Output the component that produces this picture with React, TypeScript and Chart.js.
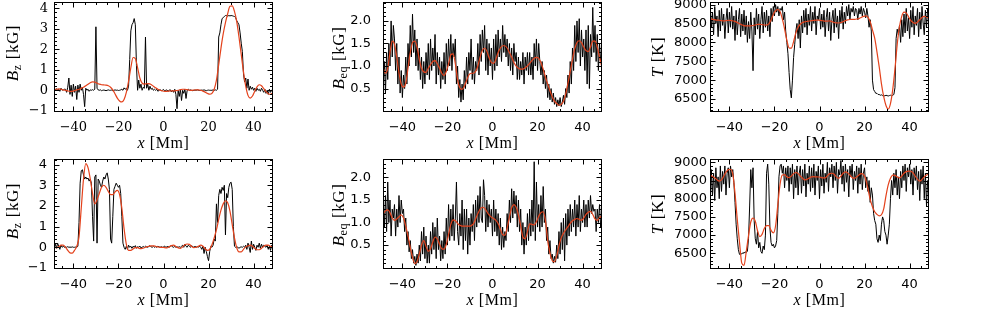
import React, { useEffect, useRef } from "react";
import { Chart, registerables } from "chart.js";

Chart.register(...registerables);

// ---------- sampling grid ----------
const X_MIN = -48.6;
const X_MAX = 48.6;
const OBS_X0 = -48.5; // observed profiles sampled every 0.5 Mm
const OBS_DX = 0.5;
const FIT_X0 = -48.5; // smoothed profiles sampled every 1 Mm
const FIT_DX = 1;

// ---------- tick labels ----------
const xTicks = [-40, -20, 0, 20, 40];
const bzTicks = [-1, 0, 1, 2, 3, 4];
const beqTicks = [0.5, 1.0, 1.5, 2.0];
const tTicks = [6500, 7000, 7500, 8000, 8500, 9000];

// ---------- top row ----------
const bzTopObs = [
  0.05, 0.02, 0.08, 0.0, 0.05, -0.05, 0.1, 0.02, 0.0, 0.06,
  0.05, -0.1, 0.15, 0.6, -0.2, 0.25, -0.3, 0.3, -0.1, 0.2,
  -0.45, 0.25, -0.1, 0.3, 0.0, 0.15, -0.2, -0.8, 0.1, 0.0,
  0.05, -0.05, 0.02, 0.0, 0.03, 0.0, 0.05, 3.1, 0.1, 0.02,
  0.0, 0.02, -0.02, 0.0, 0.01, 0.0, -0.02, 0.0, 0.02, 0.0,
  0.0, 0.01, -0.02, 0.0, 0.02, 0.0, 0.01, -0.01, 0.0, 0.02,
  0.05, 0.0, 0.12, 0.05, 0.1, 0.0, 0.2, 1.5, 2.9, 3.2,
  3.3, 3.5, 3.2, 1.2, 0.0, 0.5, 0.1, 0.3, 0.0, 0.15,
  0.1, 2.6, 0.1, 0.3, 0.0, 0.2, 0.05, 0.1, 0.0, 0.05,
  0.0, 0.05, -0.05, 0.0, 0.03, -0.02, 0.0, 0.04, -0.03, 0.0,
  0.02, -0.05, 0.0, 0.03, -0.08, 0.0, -0.1, 0.05, -0.2, -0.9,
  0.0, -0.3, 0.05, -0.5, 0.0, -0.15, 0.05, -0.4, 0.0, 0.05,
  0.0, 0.02, 0.0, -0.02, 0.0, 0.01, 0.0, 0.02, 0.0, -0.01,
  0.0, 0.01, 0.0, 0.02, 0.0, -0.02, 0.0, 0.01, 0.0, 0.0,
  0.0, 0.02, 0.0, 0.02, 0.0, 0.05, 2.6, 2.8, 3.2, 3.5,
  3.55, 3.6, 3.65, 3.65, 3.62, 3.65, 3.63, 3.65, 3.64, 3.62,
  3.6, 3.55, 3.4, 3.3, 3.2, 2.8, 2.3, 1.9, 0.8, 0.4,
  0.6, 0.1, 0.55, 0.0, 0.2, 0.05, 0.15, 0.0, 0.1, -0.05,
  0.1, 0.0, 0.05, -0.05, 0.1, 0.0, -0.1, 0.05, -0.15, 0.0,
  -0.2, 0.05, -0.1, 0.0, -0.05,
];
const bzTopFit = [
  0.05, 0.05, 0.07, 0.05, 0.02, 0.0, -0.03, -0.05, -0.05, -0.02,
  0.02, 0.05, 0.1, 0.15, 0.22, 0.3, 0.37, 0.41, 0.4, 0.35,
  0.3, 0.27, 0.26, 0.25, 0.22, 0.15, 0.02, -0.18, -0.38, -0.52,
  -0.57, -0.45, -0.1, 0.45, 1.1, 1.6, 1.55, 1.1, 0.6, 0.35,
  0.3, 0.32, 0.33, 0.28, 0.2, 0.12, 0.05, 0.0, -0.03, -0.05,
  -0.05, -0.04, -0.03, -0.03, -0.02, 0.0, 0.03, 0.05, 0.05, 0.03,
  0.01, 0.0, 0.01, 0.02, 0.02, 0.0, -0.04, -0.09, -0.15, -0.19,
  -0.15, 0.05, 0.5, 1.25, 2.05, 2.75, 3.3, 3.75, 4.1, 4.12,
  3.85, 3.35, 2.6, 1.75, 0.9, 0.2, -0.25, -0.38, -0.28, -0.05,
  0.17, 0.27, 0.22, 0.08, -0.07, -0.17, -0.2, -0.12,
];
const beqTopObs = [
  0.6, 1.1, 0.4, 1.3, 0.7, 1.5, 1.0, 2.0, 1.2, 1.9,
  1.6, 0.9, 1.5, 0.6, 1.2, 0.4, 0.9, 0.3, 0.8, 0.5,
  1.2, 0.6, 1.5, 1.0, 1.9, 1.2, 2.15, 1.3, 1.8, 1.0,
  1.6, 0.9, 1.4, 0.7, 1.2, 0.5, 1.1, 0.6, 1.3, 0.8,
  1.5, 0.7, 1.6, 0.9, 1.4, 1.0, 1.7, 0.6, 1.3, 0.8,
  1.2, 0.5, 1.1, 0.7, 1.3, 0.6, 1.5, 0.9, 1.6, 1.0,
  1.7, 0.9, 1.5, 1.2, 1.6, 0.6, 1.0, 0.3, 0.7, 0.2,
  0.6, 0.25, 0.9, 0.5, 1.2, 0.6, 1.3, 0.9, 1.6, 0.7,
  1.2, 0.6, 1.1, 0.9, 1.5, 0.8, 1.7, 1.1, 1.8, 1.3,
  1.9, 0.9, 1.6, 0.8, 1.5, 1.0, 1.4, 0.7, 1.6, 0.9,
  1.7, 1.0, 1.8, 1.2, 1.6, 1.1, 1.9, 1.3, 1.7, 1.2,
  1.6, 1.0, 1.5, 0.9, 1.4, 0.8, 1.5, 1.1, 1.3, 0.7,
  1.2, 0.7, 1.1, 0.8, 1.3, 0.6, 1.2, 0.9, 1.3, 0.8,
  1.3, 0.8, 1.2, 0.7, 1.5, 1.0, 1.6, 0.9, 1.5, 1.1,
  0.8, 1.1, 0.6, 0.9, 0.5, 0.8, 0.3, 0.6, 0.25, 0.5,
  0.2, 0.4, 0.15, 0.3, 0.1, 0.25, 0.12, 0.3, 0.1, 0.2,
  0.35, 0.15, 0.5, 0.3, 0.8, 0.4, 1.1, 0.6, 1.4, 0.9,
  1.9, 1.1, 2.0, 1.3, 2.05, 1.0, 1.8, 1.2, 1.6, 0.9,
  1.8, 0.6, 1.9, 0.5, 1.7, 1.2, 2.3, 1.3, 1.9, 1.1,
  1.7, 0.9, 1.5, 1.1, 1.3,
];
const beqTopFit = [
  0.95, 0.84, 0.95, 1.3, 1.55, 1.48, 1.2, 0.85, 0.6, 0.53,
  0.62, 0.95, 1.3, 1.52, 1.55, 1.42, 1.15, 0.95, 0.87, 0.86,
  0.95, 1.03, 1.1, 1.12, 1.05, 0.95, 0.84, 0.79, 0.88, 1.05,
  1.25, 1.27, 1.05, 0.7, 0.52, 0.48, 0.55, 0.68, 0.8, 0.84,
  0.84, 0.88, 1.0, 1.2, 1.35, 1.4, 1.33, 1.18, 1.08, 1.06,
  1.15, 1.3, 1.4, 1.45, 1.45, 1.4, 1.3, 1.2, 1.08, 1.0,
  0.95, 0.93, 0.93, 0.96, 1.0, 1.06, 1.12, 1.17, 1.19, 1.17,
  1.08, 0.93, 0.75, 0.6, 0.45, 0.32, 0.22, 0.17, 0.13, 0.15,
  0.22, 0.38, 0.62, 0.88, 1.15, 1.38, 1.52, 1.56, 1.52, 1.42,
  1.34, 1.32, 1.42, 1.55, 1.55, 1.42, 1.2, 0.98,
];
const tTopObs = [
  8900, 8400, 8800, 8200, 8950, 8500, 8700, 8150, 8850, 8300,
  8900, 8450, 8750, 8100, 8600, 8900, 8250, 8800, 8400, 8950,
  8350, 8700, 8050, 8850, 8200, 8600, 8900, 8150, 8750, 8300,
  8850, 8200, 8700, 8000, 8550, 8100, 8800, 8300, 7250, 8650,
  8200, 8900, 8350, 8750, 8100, 8600, 8950, 8250, 8800, 8400,
  8850, 8300, 8700, 8150, 8900, 8550, 8950, 8700, 9000, 8800,
  8950, 8700, 8900, 8850, 8950, 8600, 8800, 8300, 8000, 7700,
  7200, 6750, 6530, 7000, 7600, 7950, 8300, 8500, 8100, 8600,
  7850, 8700, 8250, 8850, 8400, 8900, 8200, 8750, 8450, 8950,
  8300, 8800, 8500, 8950, 8200, 8700, 8600, 8900, 8350, 8750,
  8400, 8850, 8150, 8650, 8900, 8300, 8800, 8050, 8600, 8850,
  8250, 8900, 8400, 8700, 8100, 8850, 8500, 8950, 8350, 8800,
  8500, 8950, 8700, 9000, 8600, 8900, 8800, 8950, 8700, 8900,
  8850, 8600, 8900, 8750, 8950, 8700, 8900, 8800, 8650, 8900,
  8700, 8400, 8600, 8300, 7000, 6750, 6700, 6650, 6650, 6620,
  6620, 6600, 6610, 6590, 6600, 6580, 6600, 6590, 6580, 6590,
  6600, 6580, 6600, 6620, 6800, 8100, 8350, 8200, 8450, 8000,
  8600, 8150, 8750, 8250, 8900, 8300, 8650, 8100, 8850, 8400,
  8950, 8200, 8700, 8450, 8900, 8150, 8800, 8350, 8950, 8500,
  8200, 8850, 8400, 8900, 8600,
];
const tTopFit = [
  8630, 8610, 8600, 8590, 8585, 8575, 8568, 8575, 8585, 8582,
  8570, 8555, 8525, 8495, 8465, 8445, 8437, 8435, 8438, 8447,
  8460, 8475, 8478, 8470, 8460, 8458, 8490, 8590, 8740, 8840,
  8875, 8810, 8620, 8360, 8060, 7850, 7845, 8020, 8250, 8400,
  8480, 8525, 8545, 8555, 8565, 8575, 8583, 8587, 8588, 8582,
  8572, 8565, 8565, 8567, 8550, 8525, 8515, 8513, 8525, 8550,
  8575, 8595, 8605, 8608, 8611, 8618, 8630, 8660, 8690, 8700,
  8665, 8550, 8330, 8110, 7750, 7350, 6900, 6560, 6330, 6235,
  6380, 6750, 7300, 7950, 8420, 8690, 8800, 8780, 8680, 8580,
  8525, 8505, 8540, 8600, 8660, 8690, 8675, 8650,
];

// ---------- bottom row ----------
const bzBotObs = [
  0.0, 0.15, -0.05, 0.2, 0.05, -0.1, 0.1, 0.0, 0.05, 0.0,
  0.02, 0.0, 0.03, 0.0, 0.01, 0.0, 0.02, 0.0, 0.0, 0.01,
  0.0, 0.05, 1.2, 3.1, 3.7, 3.75, 3.5, 3.3, 3.4, 3.3,
  3.35, 3.2, 3.3, 3.1, 1.5, 0.3, 3.4, 3.5, 0.2, 3.3,
  3.2, 3.0, 2.9, 3.2, 3.4, 3.3, 3.5, 3.6, 3.3, 2.8,
  0.4, 0.2, 1.5, 2.8, 2.95, 3.1, 3.0, 2.9, 3.0, 2.6,
  1.5, 0.2, 0.0, -0.1, 0.05, -0.1, 0.1, 0.0, 0.05, -0.05,
  0.05, 0.0, 0.08, -0.05, 0.03, 0.0, 0.06, -0.03, 0.0, 0.04,
  0.0, 0.05, 0.02, 0.0, 0.04, 0.08, 0.02, 0.0, 0.05, 0.0,
  0.03, 0.0, 0.05, 0.02, 0.0, 0.03, 0.0, 0.02, 0.06, 0.0,
  0.02, 0.04, 0.0, 0.05, 0.08, 0.02, 0.0, 0.04, 0.0, 0.02,
  0.0, 0.03, 0.0, 0.05, 0.1, 0.0, 0.15, 0.05, 0.0, 0.1,
  0.05, 0.0, 0.08, 0.02, 0.0, 0.05, 0.0, 0.04, 0.0, 0.06,
  0.0, -0.1, 0.05, -0.3, 0.0, -0.2, -0.45, -0.65, -0.2, 0.05,
  0.0, 0.1, 0.4, 0.3, 2.1, 1.2, 2.5, 2.8, 2.6, 2.9,
  2.75, 3.0, 0.6, 2.6, 2.4, 2.9, 3.1, 3.15, 2.8, 1.0,
  0.05, 0.0, 0.02, 0.0, -0.05, 0.0, 0.02, 0.0, 0.05, 0.0,
  0.1, -0.1, 0.2, 0.0, -0.25, 0.3, -0.1, 0.15, 0.0, -0.15,
  0.1, 0.0, 0.2, -0.05, 0.15, 0.0, 0.1, 0.05, 0.0, 0.1,
  -0.1, 0.05, -0.15, 0.1, -0.05,
];
const bzBotFit = [
  0.0, -0.02, 0.02, 0.1, 0.1, 0.0, -0.15, -0.27, -0.28, -0.15,
  0.05, 0.5, 1.9, 3.3, 4.05, 3.85, 3.3, 2.6, 2.1, 2.3,
  2.6, 2.9, 3.0, 2.9, 2.7, 2.55, 2.55, 2.68, 2.75, 2.55,
  1.9, 0.9, 0.15, -0.15, -0.15, -0.08, -0.02, -0.02, -0.06, -0.05,
  -0.02, 0.02, 0.05, 0.07, 0.07, 0.05, 0.02, 0.0, 0.0, -0.02,
  -0.03, 0.02, 0.08, 0.1, 0.04, -0.03, -0.05, 0.02, 0.12, 0.16,
  0.14, 0.04, -0.02, 0.0, 0.05, 0.1, 0.05, -0.07, -0.15, -0.1,
  0.12, 0.45, 0.85, 1.35, 1.8, 2.1, 2.25, 2.15, 1.75, 1.1,
  0.45, -0.02, -0.22, -0.22, -0.1, 0.02, 0.07, 0.1, 0.05, -0.05,
  -0.12, -0.12, -0.05, 0.05, 0.1, 0.1, 0.05, 0.02,
];
const beqBotObs = [
  1.5, 0.9, 1.6, 0.8, 1.9, 1.0, 1.5, 0.7, 1.3, 1.1,
  1.4, 0.7, 1.3, 0.9, 1.6, 1.0, 1.5, 1.2, 1.3, 0.8,
  1.1, 0.5, 0.8, 0.35, 0.6, 0.2, 0.4, 0.1, 0.25, 0.05,
  0.3, 0.1, 0.5, 0.15, 0.8, 0.3, 0.9, 0.2, 0.7, 0.1,
  0.5, 0.1, 0.8, 0.3, 1.0, 0.4, 0.9, 0.2, 1.1, 0.4,
  0.7, 0.15, 0.6, 0.2, 0.8, 0.3, 1.1, 0.5, 1.4, 0.6,
  1.3, 0.7, 1.4, 0.6, 1.1, 1.9, 0.8, 0.5, 1.2, 0.7,
  1.5, 0.4, 1.3, 0.6, 1.3, 0.3, 1.1, 0.5, 1.2, 0.8,
  1.4, 0.6, 1.5, 0.9, 1.6, 1.0, 1.8, 1.1, 1.0, 1.95,
  1.6, 0.8, 1.5, 0.9, 1.4, 1.0, 1.3, 0.7, 1.5, 0.8,
  1.3, 0.7, 1.2, 0.5, 1.1, 0.4, 0.9, 0.45, 0.8, 0.6,
  1.2, 0.8, 1.5, 1.0, 1.75, 1.1, 1.7, 1.2, 1.6, 0.9,
  1.5, 0.8, 1.3, 0.5, 1.0, 0.3, 0.9, 0.5, 1.2, 0.6,
  1.3, 0.7, 1.5, 0.8, 2.35, 0.6, 1.9, 0.9, 1.4, 0.8,
  1.6, 0.9, 1.8, 1.0, 1.3, 0.6, 0.9, 0.3, 0.6, 0.2,
  0.3, 0.1, 0.25, 0.12, 0.5, 0.2, 0.8, 0.3, 1.0, 0.4,
  1.1, 0.15, 1.2, 0.5, 1.3, 0.7, 1.4, 0.8, 1.3, 0.9,
  1.5, 0.7, 1.4, 0.9, 1.6, 0.8, 1.3, 1.0, 1.5, 0.9,
  1.4, 0.9, 1.5, 1.1, 1.6, 1.2, 1.4, 1.25, 1.3, 0.8,
  1.3, 1.0, 1.4, 0.9, 1.2,
];
const beqBotFit = [
  1.2, 1.26, 1.28, 1.22, 1.1, 1.05, 1.08, 1.13, 1.17, 1.1,
  0.92, 0.7, 0.45, 0.23, 0.09, 0.13, 0.3, 0.5, 0.6, 0.47,
  0.36, 0.42, 0.57, 0.68, 0.64, 0.52, 0.42, 0.41, 0.52, 0.74,
  0.96, 1.06, 1.04, 0.98, 0.94, 0.92, 0.92, 0.92, 0.92, 0.93,
  0.97, 1.08, 1.2, 1.3, 1.34, 1.32, 1.24, 1.17, 1.12, 1.09,
  1.05, 0.98, 0.85, 0.73, 0.72, 0.88, 1.12, 1.33, 1.4, 1.34,
  1.17, 0.93, 0.68, 0.64, 0.8, 0.97, 0.96, 0.95, 1.02, 1.14,
  1.22, 1.24, 1.04, 0.6, 0.32, 0.16, 0.13, 0.26, 0.48, 0.66,
  0.76, 0.84, 0.91, 0.98, 1.04, 1.07, 1.09, 1.07, 1.05, 1.1,
  1.18, 1.23, 1.25, 1.18, 1.08, 1.05, 1.11, 1.14,
];
const tBotObs = [
  7850, 8800, 8100, 8700, 7950, 8850, 8300, 8600, 8000, 8900,
  8200, 8750, 8400, 8900, 8100, 8700, 8850, 8300, 8900, 8600,
  8800, 8450, 7900, 7300, 6900, 6600, 6470, 6500, 6480, 6520,
  6500, 6540, 6520, 6560, 6900, 7800, 8800, 8300, 8850, 7400,
  6900, 6750, 7100, 6650, 6800, 6550, 6500, 6700, 6600, 7000,
  8700, 8950, 8400, 7200, 6800, 6700, 6750, 6650, 6700, 6850,
  7600, 8600, 8900, 8950, 8700, 8900, 8300, 8850, 8500, 8900,
  8200, 8850, 8400, 8950, 8000, 8800, 8300, 8900, 8100, 8700,
  8900, 8150, 8800, 8350, 8950, 8050, 8700, 8400, 8900, 8200,
  8850, 8300, 8950, 8100, 8750, 8500, 8900, 8000, 8800, 8350,
  8950, 8150, 8700, 8450, 9000, 8200, 8850, 8600, 8950, 8300,
  8900, 8500, 9000, 8150, 8800, 8650, 9050, 8400, 8900, 8200,
  8950, 8450, 8800, 8050, 8900, 8600, 8950, 8250, 8750, 8500,
  8900, 8150, 8850, 8400, 8950, 8250, 8700, 8850, 8300, 8600,
  8200, 8500, 7900, 8300, 8100, 7600, 7400, 7300, 6900, 6800,
  7000, 6850, 7300, 7500, 7400, 7100, 7000, 6750, 7000, 7300,
  8000, 8500, 8100, 8700, 8300, 8800, 8100, 8600, 8000, 8750,
  8300, 8900, 8500, 8950, 8200, 8850, 8600, 8950, 8400, 8800,
  8100, 8850, 8500, 8900, 8250, 8750, 7950, 8800, 8400, 8900,
  8000, 8700, 7800, 8500, 8300,
];
const tBotFit = [
  8650, 8610, 8570, 8520, 8485, 8520, 8620, 8730, 8800, 8810,
  8680, 8150, 7430, 6800, 6230, 6170, 6550, 6990, 7360, 7470,
  7380, 7120, 6960, 7020, 7180, 7260, 7260, 7130, 7060, 7250,
  7830, 8400, 8650, 8660, 8600, 8580, 8620, 8690, 8720, 8690,
  8620, 8560, 8520, 8530, 8570, 8600, 8605, 8600, 8597, 8590,
  8570, 8570, 8630, 8690, 8700, 8670, 8600, 8560, 8620, 8700,
  8740, 8710, 8650, 8580, 8560, 8600, 8650, 8690, 8670, 8540,
  8270, 7980, 7780, 7640, 7570, 7530, 7560, 7720, 8080, 8380,
  8560, 8650, 8640, 8600, 8570, 8620, 8700, 8745, 8760, 8755,
  8710, 8620, 8530, 8480, 8530, 8600, 8650, 8670,
];

// ---------- styling ----------
const RED = "#e4421c";
const TITLE_FONT = "'Liberation Serif', 'DejaVu Serif', serif";
const SERIF_TICKS = "'DejaVu Serif', serif";
const SANS_TICKS = "'DejaVu Sans', sans-serif";
const Y_AXIS_W = 50;
const X_AXIS_H = 28;
const PAD_TOP = 4;
const PAD_RIGHT = 6;

const framePlugin = {
  id: "frame",
  afterDatasetsDraw(chart: any, _args: any, opts: any) {
    const { ctx, chartArea: a, scales } = chart;
    const xs = scales.x;
    const ys = scales.y;
    const L = Math.round(a.left) + 0.5;
    const R = Math.round(a.right) - 0.5;
    const T = Math.round(a.top) + 0.5;
    const B = Math.round(a.bottom) - 0.5;
    ctx.save();
    ctx.strokeStyle = "#000";
    ctx.lineWidth = 1;
    ctx.strokeRect(L, T, R - L, B - T);
    ctx.beginPath();
    const isMajor = (list: number[], v: number, step: number) =>
      list.some((m) => Math.abs(m - v) < step / 1000);
    {
      const step = opts.xMinor;
      const k0 = Math.ceil(xs.min / step);
      const k1 = Math.floor(xs.max / step);
      for (let k = k0; k <= k1; k++) {
        const v = k * step;
        const px = Math.round(xs.getPixelForValue(v)) + 0.5;
        const len = isMajor(opts.xMajor, v, step) ? 5 : 2.5;
        ctx.moveTo(px, B);
        ctx.lineTo(px, B - len);
        ctx.moveTo(px, T);
        ctx.lineTo(px, T + len);
      }
    }
    {
      const step = opts.yMinor;
      const k0 = Math.ceil(ys.min / step - 1e-9);
      const k1 = Math.floor(ys.max / step + 1e-9);
      for (let k = k0; k <= k1; k++) {
        const v = k * step;
        const py = Math.round(ys.getPixelForValue(v)) + 0.5;
        const len = isMajor(opts.yMajor, v, step) ? 5 : 2.5;
        ctx.moveTo(L, py);
        ctx.lineTo(L + len, py);
        ctx.moveTo(R, py);
        ctx.lineTo(R - len, py);
      }
    }
    ctx.stroke();
    ctx.restore();
  },
};

const minus = (s: string) => s.replace("-", "\u2212");

type PanelDef = {
  key: string;
  left: number;
  top: number;
  width: number;
  height: number;
  obs: number[];
  fit: number[];
  yMin: number;
  yMax: number;
  yTicks: number[];
  yMinor: number;
  decimals: number;
  font: string;
  yPad: number;
  yTitle: React.ReactNode;
  yTitleX: number;
  yTitleY: number;
};

const BOX_W = 219;
const BOX_H = 110;
const subStyle: React.CSSProperties = { fontSize: 12, verticalAlign: -3 };

const panels: PanelDef[] = [
  {
    key: "bzTop", left: 54, top: 2, width: BOX_W, height: BOX_H,
    obs: bzTopObs, fit: bzTopFit, yMin: -1.06, yMax: 4.31, yTicks: bzTicks, yMinor: 0.2,
    decimals: 0, font: SERIF_TICKS, yPad: 6,
    yTitle: (<span><i>B</i><sub style={subStyle}>z</sub> [kG]</span>),
    yTitleX: 15, yTitleY: 53,
  },
  {
    key: "beqTop", left: 383, top: 2, width: BOX_W, height: BOX_H,
    obs: beqTopObs, fit: beqTopFit, yMin: -0.02, yMax: 2.42, yTicks: beqTicks, yMinor: 0.1,
    decimals: 1, font: SANS_TICKS, yPad: 12,
    yTitle: (<span><i>B</i><sub style={subStyle}>eq</sub> [kG]</span>),
    yTitleX: 341, yTitleY: 58,
  },
  {
    key: "tTop", left: 710, top: 2, width: BOX_W, height: BOX_H,
    obs: tTopObs, fit: tTopFit, yMin: 6156, yMax: 9069, yTicks: tTicks, yMinor: 100,
    decimals: 0, font: SANS_TICKS, yPad: 3,
    yTitle: (<span><i>T</i> [K]</span>),
    yTitleX: 657, yTitleY: 57,
  },
  {
    key: "bzBot", left: 54, top: 159, width: BOX_W, height: BOX_H,
    obs: bzBotObs, fit: bzBotFit, yMin: -1.05, yMax: 4.27, yTicks: bzTicks, yMinor: 0.2,
    decimals: 0, font: SANS_TICKS, yPad: 7,
    yTitle: (<span><i>B</i><sub style={subStyle}>z</sub> [kG]</span>),
    yTitleX: 15, yTitleY: 211,
  },
  {
    key: "beqBot", left: 383, top: 159, width: BOX_W, height: BOX_H,
    obs: beqBotObs, fit: beqBotFit, yMin: -0.03, yMax: 2.41, yTicks: beqTicks, yMinor: 0.1,
    decimals: 1, font: SANS_TICKS, yPad: 12,
    yTitle: (<span><i>B</i><sub style={subStyle}>eq</sub> [kG]</span>),
    yTitleX: 341, yTitleY: 215,
  },
  {
    key: "tBot", left: 710, top: 159, width: BOX_W, height: BOX_H,
    obs: tBotObs, fit: tBotFit, yMin: 6069, yMax: 9091, yTicks: tTicks, yMinor: 100,
    decimals: 0, font: SANS_TICKS, yPad: 3,
    yTitle: (<span><i>T</i> [K]</span>),
    yTitleX: 657, yTitleY: 214,
  },
];

function Panel({ p }: { p: PanelDef }) {
  const ref = useRef<HTMLCanvasElement>(null);
  const cw = p.width + Y_AXIS_W + PAD_RIGHT;
  const ch = p.height + PAD_TOP + X_AXIS_H;
  useEffect(() => {
    const canvas = ref.current;
    if (!canvas) return;
    const tickFont = { family: p.font, size: 13, lineHeight: 1.2 };
    const chart = new Chart(canvas, {
      type: "line",
      data: {
        datasets: [
          {
            data: p.fit.map((y, i) => ({ x: FIT_X0 + i * FIT_DX, y })),
            borderColor: RED,
            borderWidth: 1.2,
            pointRadius: 0,
            fill: false,
            cubicInterpolationMode: "monotone",
          },
          {
            data: p.obs.map((y, i) => ({ x: OBS_X0 + i * OBS_DX, y })),
            borderColor: "#000",
            borderWidth: 1,
            pointRadius: 0,
            fill: false,
            tension: 0,
          },
        ],
      },
      options: {
        animation: false,
        responsive: false,
        maintainAspectRatio: false,
        devicePixelRatio: 1,
        events: [],
        layout: { padding: { left: 0, top: PAD_TOP, right: PAD_RIGHT, bottom: 0 } },
        plugins: {
          legend: { display: false },
          tooltip: { enabled: false },
          frame: { xMinor: 5, xMajor: xTicks, yMinor: p.yMinor, yMajor: p.yTicks },
        } as any,
        scales: {
          x: {
            type: "linear",
            min: X_MIN,
            max: X_MAX,
            grid: { display: false, drawTicks: false },
            border: { display: false },
            afterBuildTicks: (s: any) => {
              s.ticks = xTicks.map((v) => ({ value: v }));
            },
            afterFit: (s: any) => {
              s.height = X_AXIS_H;
              s.paddingLeft = 0;
              s.paddingRight = 0;
              s.paddingTop = 0;
              s.paddingBottom = 0;
            },
            ticks: {
              autoSkip: false,
              maxRotation: 0,
              minRotation: 0,
              padding: 8,
              color: "#000",
              font: tickFont,
              callback: (v: any) => minus(String(v)),
            },
          },
          y: {
            type: "linear",
            min: p.yMin,
            max: p.yMax,
            grid: { display: false, drawTicks: false },
            border: { display: false },
            afterBuildTicks: (s: any) => {
              s.ticks = p.yTicks.map((v) => ({ value: v }));
            },
            afterFit: (s: any) => {
              s.width = Y_AXIS_W;
              s.paddingLeft = 0;
              s.paddingRight = 0;
              s.paddingTop = 0;
              s.paddingBottom = 0;
            },
            ticks: {
              autoSkip: false,
              padding: p.yPad,
              color: "#000",
              font: tickFont,
              callback: (v: any) => minus(Number(v).toFixed(p.decimals)),
            },
          },
        },
      },
      plugins: [framePlugin],
    } as any);
    return () => chart.destroy();
  }, [p]);
  return (
    <canvas
      ref={ref}
      width={cw}
      height={ch}
      style={{
        position: "absolute",
        left: p.left - Y_AXIS_W,
        top: p.top - PAD_TOP,
        width: cw,
        height: ch,
        display: "block",
      }}
    />
  );
}

const titleStyle: React.CSSProperties = {
  position: "absolute",
  fontFamily: TITLE_FONT,
  fontSize: 17,
  color: "#000",
  whiteSpace: "nowrap",
  lineHeight: "19px",
  letterSpacing: 0.6,
};

export default function App() {
  return (
    <div
      style={{
        position: "absolute",
        left: 0,
        top: 0,
        width: 983,
        height: 313,
        background: "#fff",
        overflow: "hidden",
      }}
    >
      {panels.map((p) => (
        <Panel key={p.key} p={p} />
      ))}
      {panels.map((p) => (
        <div
          key={p.key + "-yt"}
          style={{
            ...titleStyle,
            left: p.yTitleX,
            top: p.yTitleY,
            transform: "translate(-50%, -50%) rotate(-90deg)",
          }}
        >
          {p.yTitle}
        </div>
      ))}
      {panels.map((p) => (
        <div
          key={p.key + "-xt"}
          style={{
            ...titleStyle,
            fontSize: 16,
            left: p.left + p.width / 2,
            top: p.top + p.height + 30,
            transform: "translate(-50%, -50%)",
          }}
        >
          <i>x</i> [Mm]
        </div>
      ))}
    </div>
  );
}
